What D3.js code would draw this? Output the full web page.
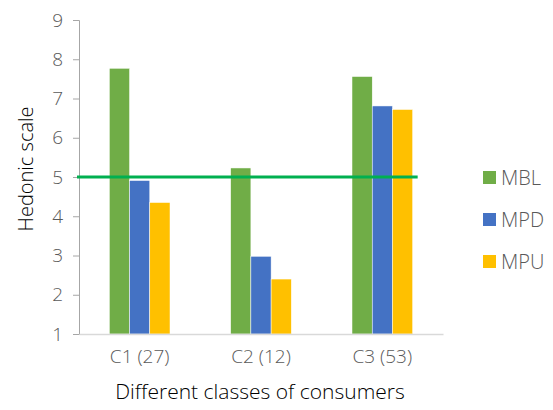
<!DOCTYPE html>
<html>
<head>
<meta charset="utf-8">
<script src="https://cdn.jsdelivr.net/npm/d3@7"></script>
<style>
  body { margin: 0; background: #fff; }
  text { font-family: "Open Sans", sans-serif; }
</style>
</head>
<body>
<div id="chart"></div>
<script>
// data
var categories = ['C1 (27)', 'C2 (12)', 'C3 (53)'];
var seriesNames = ['MBL', 'MPD', 'MPU'];
var mbl = [7.77, 5.23, 7.56];
var mpd = [4.91, 2.98, 6.81];
var mpu = [4.35, 2.40, 6.72];
var yTicks = [1, 2, 3, 4, 5, 6, 7, 8, 9];
var refValue = 5;

var colors = ['#70AD47', '#4472C4', '#FFC000'];
var seriesValues = [mbl, mpd, mpu];

var w = 553, h = 410;
var margin = { left: 79, right: 110, top: 20, bottom: 76 };

var svg = d3.select('#chart').append('svg')
    .attr('width', w)
    .attr('height', h);

var x = d3.scaleBand()
    .domain(categories)
    .range([margin.left, w - margin.right])
    .paddingInner(0.5)
    .paddingOuter(0.25);

var xs = d3.scaleBand()
    .domain(seriesNames)
    .range([0, x.bandwidth()]);

var y = d3.scaleLinear()
    .domain([1, 9])
    .range([h - margin.bottom, margin.top]);

// y axis
var yAxis = svg.append('g')
    .attr('transform', 'translate(' + margin.left + ',0)')
    .call(d3.axisLeft(y).tickValues(yTicks).tickSize(6).tickPadding(10).tickFormat(d3.format('d')));
yAxis.select('.domain').attr('stroke', '#a6a6a6');
yAxis.selectAll('.tick line').attr('stroke', '#a6a6a6');
yAxis.selectAll('.tick text')
    .attr('fill', '#595959')
    .style('font-size', '19px')
    .style('font-weight', 300);

// bars
var rows = [];
categories.forEach(function(c, i) {
    seriesNames.forEach(function(s, j) {
        rows.push({ cat: c, series: s, value: seriesValues[j][i], color: colors[j] });
    });
});

svg.append('g').selectAll('rect')
    .data(rows)
    .enter()
    .append('rect')
    .attr('x', function(d) { return x(d.cat) + xs(d.series); })
    .attr('width', xs.bandwidth())
    .attr('y', function(d) { return y(d.value); })
    .attr('height', function(d) { return y(1) - y(d.value); })
    .attr('fill', function(d) { return d.color; })
    .attr('stroke', '#fff')
    .attr('stroke-width', 0.5);

// x axis
var xAxis = svg.append('g')
    .attr('transform', 'translate(0,' + y(1) + ')')
    .call(d3.axisBottom(x).tickSize(0).tickPadding(16));
xAxis.select('.domain').attr('stroke', '#d9d9d9').attr('stroke-width', 1.5);
xAxis.selectAll('.tick text')
    .attr('fill', '#595959')
    .style('font-size', '19px')
    .style('font-weight', 300);

// reference line at 5
var lastCat = categories[categories.length - 1];
svg.append('line')
    .attr('x1', margin.left - 2)
    .attr('x2', x(lastCat) + x.bandwidth() + 5)
    .attr('y1', y(refValue))
    .attr('y2', y(refValue))
    .attr('stroke', '#00B050')
    .attr('stroke-width', 3);

// axis titles
svg.append('text')
    .attr('x', 260)
    .attr('y', 399)
    .attr('text-anchor', 'middle')
    .attr('fill', '#000')
    .style('font-size', '21px')
    .style('font-weight', 300)
    .text('Different classes of consumers');

svg.append('text')
    .attr('transform', 'translate(33,' + 169 + ') rotate(-90)')
    .attr('text-anchor', 'middle')
    .attr('fill', '#000')
    .style('font-size', '20px')
    .style('font-weight', 300)
    .text('Hedonic scale');

// legend
var legend = svg.append('g').selectAll('g')
    .data(seriesNames)
    .enter()
    .append('g')
    .attr('transform', function(d, i) { return 'translate(483,' + (171 + i * 42) + ')'; });
legend.append('rect')
    .attr('width', 13)
    .attr('height', 13)
    .attr('fill', function(d, i) { return colors[i]; });
legend.append('text')
    .attr('x', 18)
    .attr('y', 13.5)
    .attr('fill', '#595959')
    .style('font-size', '20px')
    .style('font-weight', 300)
    .text(function(d) { return d; });
</script>
</body>
</html>
